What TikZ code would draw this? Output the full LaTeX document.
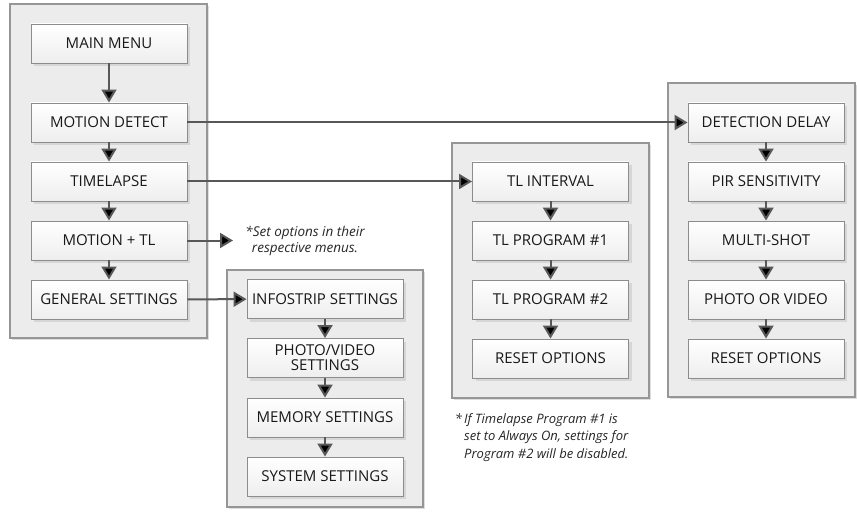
\documentclass[tikz,border=0pt]{standalone}
\usepackage{fontspec}
\setmainfont{Open Sans}
\usetikzlibrary{arrows.meta,shadows}
\definecolor{panel_fill}{RGB}{236,236,236}
\definecolor{panel_edge}{RGB}{150,150,150}
\definecolor{panel_shadow}{RGB}{222,222,222}
\definecolor{box_edge}{RGB}{140,140,140}
\definecolor{box_bottom}{RGB}{238,238,238}
\definecolor{box_shadow}{RGB}{214,214,214}
\definecolor{arrow_gray}{RGB}{88,88,88}
\newcommand\menufont{\fontsize{15}{15}\selectfont}
\newcommand\noteAfont{\fontsize{13.5}{16}\selectfont\itshape}
\newcommand\noteBfont{\fontsize{13}{17.5}\selectfont\itshape}

\begin{document}
\begin{tikzpicture}[x=1pt,y=-1pt,>={Triangle[length=13pt,width=15pt]}]
    \tikzstyle{panel}=[fill=panel_fill,draw=panel_edge,line width=1.2pt,
      drop shadow={shadow xshift=2pt,shadow yshift=-2pt,fill=panel_shadow,opacity=1}]
    \tikzstyle{menu}=[rectangle,draw=box_edge,line width=0.9pt,text=black!90,font=\menufont,
      minimum width=156pt,minimum height=39pt,inner sep=1pt,align=center,
      top color=white,bottom color=box_bottom,
      drop shadow={shadow xshift=3pt,shadow yshift=-3pt,fill=box_shadow,opacity=1}]
    \tikzstyle{link}=[->,draw=arrow_gray,line width=2pt]
    \tikzstyle{note}=[text=black!85,inner sep=0pt]

    \useasboundingbox (0,0) rectangle (857,516);

    % panels
    \draw[panel] (10,4)    rectangle (207,338);
    \draw[panel] (227,270) rectangle (423,507);
    \draw[panel] (452,143) rectangle (649,398);
    \draw[panel] (668,83)  rectangle (855,397);

    % main menu column
    \node[menu] (main)    at (109,43.5)  {MAIN MENU};
    \node[menu] (motion)  at (109,122.5) {MOTION DETECT};
    \node[menu] (tlapse)  at (109,181.5) {TIMELAPSE};
    \node[menu] (mottl)   at (109,240.5) {MOTION + TL};
    \node[menu] (general) at (109,299.5) {GENERAL SETTINGS};

    % general settings column
    \node[menu] (info)   at (325,299)   {INFOSTRIP SETTINGS};
    \node[menu] (photo)  at (325,358)   {PHOTO/VIDEO\\SETTINGS};
    \node[menu] (memory) at (325,417.5) {MEMORY SETTINGS};
    \node[menu] (system) at (325,476.5) {SYSTEM SETTINGS};

    % timelapse column
    \node[menu] (tlint)   at (550.5,181.5) {TL INTERVAL};
    \node[menu] (tlprogA) at (550.5,240.5) {TL PROGRAM \#1};
    \node[menu] (tlprogB) at (550.5,299.5) {TL PROGRAM \#2};
    \node[menu] (tlreset) at (550.5,358.5) {RESET OPTIONS};

    % motion detect column
    \node[menu] (delay)  at (766,122.5) {DETECTION DELAY};
    \node[menu] (pir)    at (766,181.5) {PIR SENSITIVITY};
    \node[menu] (multi)  at (766,240.5) {MULTI-SHOT};
    \node[menu] (photov) at (766,299.5) {PHOTO OR VIDEO};
    \node[menu] (mdreset) at (766,358.5) {RESET OPTIONS};

    \coordinate (mottlend) at (233,240.5);

    \node[note,font=\noteAfont,align=center] (setnote) at (305,241)
      {*Set options in their\\respective menus.};
    \node[note,font=\noteBfont,align=left,anchor=north west] (tlnote) at (464,413)
      {\llap{*\,}If Timelapse Program \#1 is\\set to Always On, settings for\\Program \#2 will be disabled.};

    \path[link]
     (main) edge (motion)
     (motion) edge (tlapse)
     (tlapse) edge (mottl)
     (mottl) edge (general)
     (info) edge (photo)
     (photo) edge (memory)
     (memory) edge (system)
     (tlint) edge (tlprogA)
     (tlprogA) edge (tlprogB)
     (tlprogB) edge (tlreset)
     (delay) edge (pir)
     (pir) edge (multi)
     (multi) edge (photov)
     (photov) edge (mdreset)
     (motion) edge (delay)
     (tlapse) edge (tlint)
     (mottl) edge (mottlend)
     (general) edge (info);
  \end{tikzpicture}
\end{document}
